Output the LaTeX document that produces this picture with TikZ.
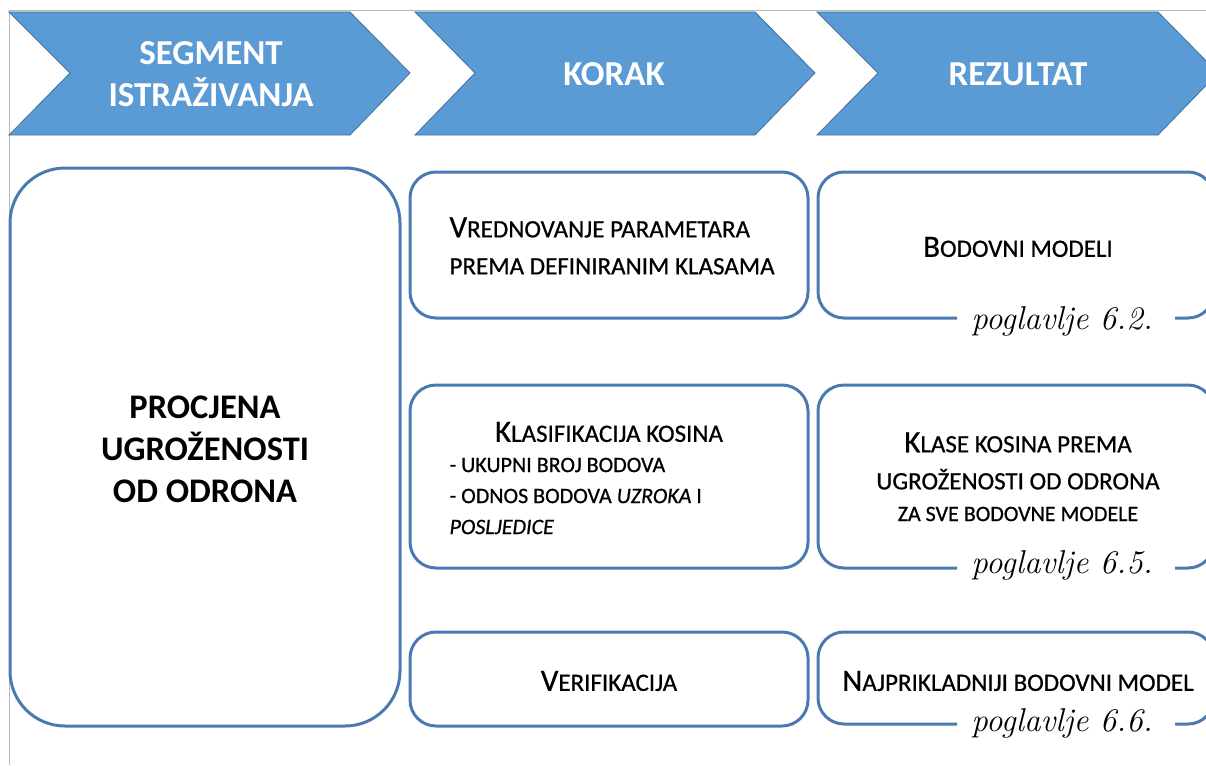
\documentclass[tikz,border=0pt]{standalone}
\usepackage{fontspec}
\setmainfont{Carlito}
\newfontfamily\boxfont{Carlito}[FakeBold=0.7]
\newfontfamily\handfont{Latin Modern Roman}
\definecolor{hdrblue}{RGB}{91,155,213}
\definecolor{hdredge}{RGB}{65,113,156}
\definecolor{boxblue}{RGB}{74,122,178}
\newcommand{\ini}[1]{{\fontsize{31}{32}\selectfont #1}}
\tikzset{
  chevron/.style={fill=hdrblue, draw=hdredge, line width=0.8pt},
  bigbox/.style={draw=boxblue, line width=3pt, rounded corners=55pt},
  stepbox/.style={draw=boxblue, line width=3pt, rounded corners=26pt},
  hdr/.style={text=white, font=\fontsize{35}{42}\selectfont\bfseries, align=center},
  title/.style={font=\fontsize{34.5}{42}\selectfont\bfseries, align=center},
  lbl/.style={font=\boxfont\fontsize{25}{37}\selectfont, align=center},
  note/.style={font=\boxfont\fontsize{22}{31}\selectfont, align=left},
  chap/.style={font=\handfont\itshape\fontsize{33}{33}\selectfont, anchor=base},
}
\begin{document}
\begin{tikzpicture}[x=1pt, y=-1pt]
		\useasboundingbox (0,0) rectangle (1206,765);
		\clip (0,0) rectangle (1206,765);
		% frame
		\draw[gray!55, line width=1pt] (9,765) -- (9,11) -- (1206,11);
		% header arrows
		\filldraw[chevron] (9,12) -- (350,12) -- (410,73) -- (350,135) -- (9,135) -- (70,73) -- cycle;
		\filldraw[chevron] (415,12) -- (755,12) -- (815,73) -- (755,135) -- (415,135) -- (475,73) -- cycle;
		\filldraw[chevron] (817,12) -- (1158,12) -- (1218,73) -- (1158,135) -- (817,135) -- (878,73) -- cycle;
		\node[hdr] (segment) at (211,74) {SEGMENT\\ISTRAŽIVANJA};
		\node[hdr] (korak) at (614,74) {KORAK};
		\node[hdr] (rezultat) at (1018,74) {REZULTAT};
		% left column
		\draw[bigbox] (10,168) rectangle (400,726);
		\node[title] (procjena) at (205,449) {PROCJENA\\UGROŽENOSTI\\OD ODRONA};
		% middle column
		\draw[stepbox] (410,172) rectangle (808,318);
		\draw[stepbox] (410,385) rectangle (808,568);
		\draw[stepbox] (410,632) rectangle (808,726);
		\node[lbl, align=left, anchor=west] (vred) at (446,246) {\ini{V}REDNOVANJE PARAMETARA\\PREMA DEFINIRANIM KLASAMA};
		\node[lbl] (klas) at (609,432) {\ini{K}LASIFIKACIJA KOSINA};
		\node[note, anchor=west] (bodovi) at (446,496) {- UKUPNI BROJ BODOVA\\- ODNOS BODOVA \textit{UZROKA} I\\\textit{POSLJEDICE}};
		\node[lbl] (verif) at (609,681) {\ini{V}ERIFIKACIJA};
		% right column
		\draw[stepbox] (957,318) -- (818,318) -- (818,172) -- (1214,172) -- (1214,318) -- (1175,318);
		\draw[stepbox] (957,568) -- (818,568) -- (818,385) -- (1214,385) -- (1214,568) -- (1175,568);
		\draw[stepbox] (957,724) -- (818,724) -- (818,632) -- (1214,632) -- (1214,724) -- (1175,724);
		\node[lbl] (modeli) at (1018,247) {\ini{B}ODOVNI MODELI};
		\node[lbl] (klase) at (1018,461) {\ini{K}LASE KOSINA PREMA\\UGROŽENOSTI OD ODRONA};
		\node[note] (sve) at (1018,514) {ZA SVE BODOVNE MODELE};
		\node[lbl] (najbolji) at (1018,681) {\ini{N}AJPRIKLADNIJI BODOVNI MODEL};
		\node[chap] (pog62) at (1062,329) {poglavlje 6.2.};
		\node[chap] (pog65) at (1062,573) {poglavlje 6.5.};
		\node[chap] (pog66) at (1062,731) {poglavlje 6.6.};
	\end{tikzpicture}
\end{document}
